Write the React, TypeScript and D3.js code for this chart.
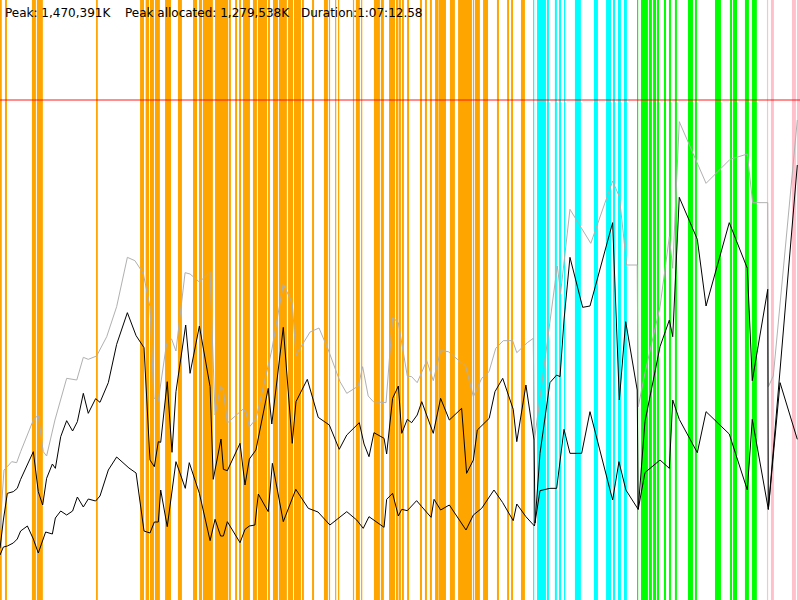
import * as React from "react";
import * as d3 from "d3";
import { useEffect, useRef } from "react";

// run summary
const peakTotal = "1,470,391K";
const peakAllocated = "1,279,538K";
const durationLabel = "1:07:12.58";
const durationSec = 4032.58;
const maxHeapMB = 1500;

// gc events: [start sec, duration sec]
const gcYoung: [number, number][] = [
  [0, 9], [25, 10], [161, 20], [186, 30], [484, 9], [706, 20], [734, 17], [756, 20],
  [781, 25], [832, 30], [897, 20], [973, 20], [1003, 15], [1023, 50], [1084, 66],
  [1154, 10], [1185, 10], [1205, 10], [1225, 35], [1275, 20], [1300, 46], [1351, 10],
  [1376, 25], [1406, 40], [1452, 25], [1482, 35], [1522, 10], [1573, 10], [1633, 20],
  [1658, 6], [1689, 6], [1704, 6], [1779, 6], [1794, 20], [1820, 6], [1885, 30],
  [1920, 15], [1961, 30], [1996, 10], [2009, 12], [2026, 10], [2052, 10], [2117, 10],
  [2142, 10], [2167, 10], [2193, 15], [2210, 38], [2268, 25], [2309, 70], [2384, 6],
  [2394, 25], [2435, 25], [2505, 10], [2556, 10], [2576, 10], [2626, 20],
];
const gcMixed: [number, number][] = [
  [2687, 6], [2707, 45], [2757, 10], [2797, 10], [2818, 10], [2843, 6], [2898, 30],
  [2994, 20], [3055, 25], [3090, 10], [3115, 15], [3145, 15],
];
const gcFull: [number, number][] = [
  [3211, 6], [3231, 35], [3271, 15], [3292, 15], [3312, 10], [3347, 10], [3372, 10],
  [3402, 10], [3468, 25], [3503, 10], [3604, 30], [3680, 10], [3695, 20], [3755, 20],
  [3790, 25],
];
const gcOther: [number, number][] = [
  [3866, 6], [3886, 15], [3992, 20], [4017, 16],
];

// memory samples: [sec, MB]
const totalMem: [number, number][] = [
  [0, 210], [20, 390], [37, 400], [59, 415], [84, 412], [104, 445], [168, 540], [193, 555],
  [218, 445], [235, 432], [277, 540], [336, 665], [387, 660], [420, 728], [445, 722],
  [487, 732], [538, 790], [588, 880], [642, 1028], [680, 1018], [722, 980], [756, 880],
  [776, 606], [798, 598], [840, 771], [865, 783], [887, 747], [933, 982], [958, 978],
  [1005, 954], [1059, 984], [1084, 555], [1112, 640], [1126, 630], [1146, 531],
  [1226, 573], [1240, 564], [1257, 519], [1290, 543], [1370, 750], [1428, 948],
  [1473, 891], [1492, 735], [1563, 804], [1608, 816], [1655, 750], [1714, 655],
  [1748, 620], [1806, 642], [1828, 700], [1856, 612], [1882, 595], [1946, 592],
  [1979, 848], [2008, 832], [2053, 672], [2075, 670], [2103, 652], [2151, 718],
  [2184, 658], [2221, 748], [2260, 745], [2310, 720], [2347, 702], [2386, 610],
  [2428, 665], [2465, 685], [2499, 755], [2537, 778], [2584, 778], [2605, 742],
  [2658, 772], [2688, 785], [2694, 480], [2809, 1002], [2826, 922], [2873, 1172],
  [2978, 1070], [3088, 1257], [3122, 1210], [3159, 1005], [3212, 1005], [3217, 579],
  [3251, 681], [3327, 880], [3374, 1090], [3391, 995], [3424, 1435], [3559, 1250],
  [3680, 1322], [3767, 1338], [3794, 1192], [3870, 1192], [3873, 640], [3898, 672],
  [4019, 1440],
];
const usedMem: [number, number][] = [
  [0, 155], [17, 240], [37, 320], [67, 325], [87, 335], [104, 362], [168, 445], [193, 325],
  [215, 285], [235, 365], [264, 408], [279, 395], [306, 490], [336, 538], [366, 507],
  [390, 535], [420, 620], [445, 560], [482, 604], [504, 593], [546, 652], [588, 767],
  [642, 862], [686, 793], [726, 757], [756, 420], [778, 400], [798, 475], [810, 473],
  [843, 655], [867, 443], [887, 625], [936, 825], [958, 680], [1005, 822], [1059, 640],
  [1075, 362], [1114, 483], [1126, 392], [1146, 388], [1210, 470], [1235, 345],
  [1257, 423], [1290, 450], [1352, 635], [1370, 528], [1428, 818], [1473, 470],
  [1492, 595], [1549, 662], [1604, 548], [1660, 525], [1710, 452], [1748, 495],
  [1811, 532], [1835, 468], [1860, 430], [1885, 502], [1936, 485], [1949, 438],
  [1979, 605], [2008, 642], [2025, 500], [2053, 542], [2075, 532], [2103, 555],
  [2126, 595], [2184, 500], [2221, 605], [2265, 540], [2327, 575], [2352, 380],
  [2386, 420], [2406, 510], [2466, 545], [2495, 625], [2534, 665], [2587, 572],
  [2605, 475], [2651, 645], [2692, 480], [2697, 231], [2722, 440], [2772, 652],
  [2806, 675], [2823, 670], [2843, 840], [2873, 1028], [2937, 878], [2974, 882],
  [3088, 1132], [3122, 600], [3154, 835], [3212, 630], [3217, 272], [3251, 535],
  [3327, 760], [3374, 840], [3391, 790], [3424, 1208], [3515, 1082], [3559, 882],
  [3676, 1132], [3767, 995], [3792, 658], [3870, 932], [3873, 272], [4019, 1305],
];
const afterGcMem: [number, number][] = [
  [0, 135], [17, 159], [37, 162], [67, 171], [87, 183], [104, 207], [138, 222], [168, 183],
  [193, 141], [230, 204], [264, 198], [279, 246], [306, 267], [336, 255], [366, 267],
  [390, 309], [420, 279], [445, 303], [482, 297], [504, 312], [546, 390], [588, 429],
  [650, 396], [686, 381], [726, 207], [756, 201], [778, 234], [798, 234], [810, 330],
  [843, 220], [887, 415], [934, 335], [954, 412], [1005, 320], [1059, 178], [1084, 242],
  [1112, 192], [1126, 192], [1146, 235], [1210, 172], [1235, 212], [1257, 222],
  [1285, 225], [1302, 318], [1352, 265], [1373, 410], [1428, 235], [1491, 332],
  [1554, 275], [1603, 264], [1663, 225], [1748, 265], [1798, 240], [1831, 215],
  [1860, 250], [1936, 218], [1949, 302], [1979, 320], [2008, 252], [2025, 272],
  [2053, 268], [2100, 298], [2126, 280], [2173, 248], [2188, 302], [2221, 270],
  [2265, 285], [2349, 210], [2386, 255], [2428, 275], [2490, 330], [2534, 292],
  [2587, 238], [2605, 288], [2651, 250], [2694, 222], [2722, 328], [2772, 335],
  [2806, 335], [2843, 512], [2873, 440], [2932, 440], [2974, 565], [3088, 300],
  [3120, 415], [3155, 330], [3217, 272], [3251, 382], [3327, 420], [3374, 395],
  [3391, 600], [3424, 542], [3515, 442], [3559, 565], [3676, 498], [3767, 330],
  [3792, 542], [3873, 272], [3932, 652], [4019, 482],
];

const App: React.FunctionComponent = () => {
  const svgRef = useRef<SVGSVGElement>(null);

  useEffect(() => {
    const w = 800;
    const h = 600;

    const svg = d3.select(svgRef.current).attr("width", w).attr("height", h);
    svg.selectAll("*").remove();

    const x = d3.scaleLinear().domain([0, durationSec]).range([0, w]);
    const y = d3.scaleLinear().domain([0, 1800]).range([h, 0]);

    const bandGroups: [[number, number][], string][] = [
      [gcYoung, "#ffa500"],
      [gcMixed, "#00ffff"],
      [gcFull, "#00ff00"],
      [gcOther, "#ffc0cb"],
    ];
    bandGroups.forEach(([events, color]) => {
      svg
        .append("g")
        .selectAll("rect")
        .data(events)
        .join("rect")
        .attr("x", (d) => x(d[0]))
        .attr("y", 0)
        .attr("width", (d) => x(d[0] + d[1]) - x(d[0]))
        .attr("height", h)
        .attr("fill", color);
    });

    svg
      .append("line")
      .attr("x1", 0)
      .attr("x2", w)
      .attr("y1", y(maxHeapMB))
      .attr("y2", y(maxHeapMB))
      .attr("stroke", "red")
      .attr("stroke-opacity", 0.6)
      .attr("stroke-width", 1.5);

    const line = d3
      .line<[number, number]>()
      .x((d) => x(d[0]))
      .y((d) => y(d[1]));

    const series: [[number, number][], string][] = [
      [totalMem, "#b0b0b0"],
      [usedMem, "#000"],
      [afterGcMem, "#000"],
    ];
    series.forEach(([pts, color]) => {
      svg
        .append("path")
        .attr("d", line(pts))
        .attr("fill", "none")
        .attr("stroke", color)
        .attr("stroke-width", 1);
    });

    const labels = [
      ["Peak: " + peakTotal, 5],
      ["Peak allocated: " + peakAllocated, 125],
      ["Duration:" + durationLabel, 301],
    ];
    svg
      .append("g")
      .selectAll("text")
      .data(labels)
      .join("text")
      .attr("x", (d) => d[1])
      .attr("y", 17)
      .attr("font-family", "DejaVu Sans, sans-serif")
      .attr("font-size", 12)
      .attr("fill", "#000")
      .text((d) => d[0]);
  }, []);

  return <svg ref={svgRef} style={{ position: "absolute", left: 0, top: 0, background: "#fff" }}></svg>;
};

export default App;
